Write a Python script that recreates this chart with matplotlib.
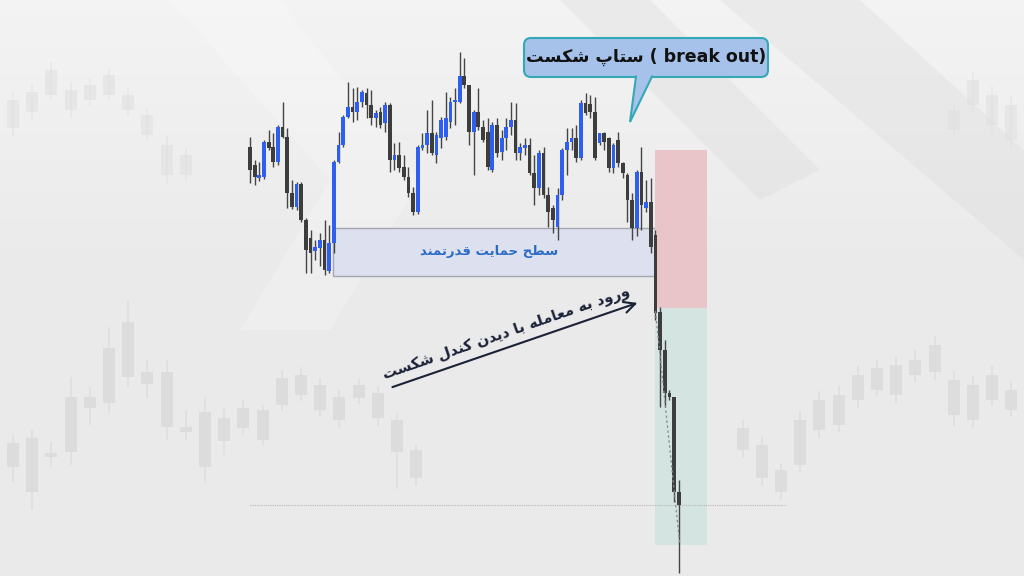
import matplotlib.pyplot as plt
import matplotlib.patches as mpatches
import numpy as np

# main chart candles (price units)
opens = [429, 411, 398, 399, 434, 429, 414, 449, 439, 383, 369, 392, 356, 338, 325, 328, 336, 305, 333, 414,
         431, 459, 469, 464, 474, 483, 471, 458, 464, 453, 471, 416, 421, 409, 399, 383, 364, 428, 431, 443,
         421, 438, 439, 454, 474, 474, 500, 491, 444, 464, 449, 444, 406, 451, 424, 438, 449, 456, 423, 428,
         431, 403, 388, 423, 381, 368, 349, 381, 426, 434, 438, 418, 473, 472, 464, 433, 443, 438, 408, 436,
         413, 401, 376, 348, 404, 368, 374, 341, 264, 226, 183, 179, 84]
highs = [439, 416, 414, 436, 446, 443, 451, 474, 448, 396, 394, 394, 358, 346, 336, 343, 356, 351, 416, 444,
         461, 494, 488, 489, 486, 488, 486, 466, 469, 474, 473, 433, 434, 421, 409, 389, 431, 443, 466, 476,
         444, 459, 484, 479, 488, 524, 518, 491, 466, 488, 456, 458, 454, 458, 446, 458, 474, 473, 433, 438,
         438, 421, 426, 429, 389, 371, 388, 428, 448, 448, 451, 476, 483, 481, 479, 443, 444, 439, 433, 444,
         414, 403, 383, 406, 429, 396, 398, 346, 269, 236, 186, 179, 96]
lows = [393, 391, 395, 397, 426, 409, 411, 438, 368, 367, 366, 354, 303, 303, 316, 310, 301, 303, 323, 413,
        429, 458, 454, 456, 469, 458, 451, 449, 448, 444, 404, 406, 404, 396, 379, 361, 362, 426, 423, 421,
        413, 428, 436, 448, 451, 473, 488, 431, 401, 446, 434, 406, 404, 419, 416, 426, 441, 416, 416, 421,
        401, 371, 381, 378, 349, 343, 336, 376, 401, 426, 414, 416, 461, 458, 416, 431, 426, 404, 403, 409,
        398, 354, 336, 340, 346, 364, 323, 256, 169, 169, 176, 74, 3]
closes = [406, 399, 401, 434, 428, 414, 449, 439, 383, 369, 392, 356, 326, 323, 329, 336, 306, 333, 414, 431,
          459, 469, 464, 474, 484, 471, 458, 463, 451, 471, 416, 421, 408, 399, 383, 364, 429, 431, 443, 423,
          441, 456, 458, 474, 476, 500, 491, 444, 464, 449, 436, 409, 451, 423, 438, 449, 456, 423, 429, 431,
          403, 388, 423, 381, 364, 356, 381, 426, 434, 438, 418, 473, 463, 464, 418, 443, 434, 408, 431, 413,
          403, 376, 348, 404, 371, 374, 329, 263, 226, 183, 179, 84, 71]

# levels of the setup
support_top, support_bottom = 348, 300
support_start, break_index = 18, 87
stop_price, entry_price, target_price = 426, 268, 31

# faded background candles: index, open, high, low, close
bg_low_idx = list(range(22))
bg_low_open = [133, 138, 123, 179, 179, 228, 254, 204, 204, 149, 164, 158, 168, 166, 198, 201, 191, 179, 191, 183, 156, 126]
bg_low_close = [109, 84, 119, 124, 168, 173, 199, 192, 149, 144, 109, 135, 148, 136, 171, 181, 166, 156, 178, 158, 124, 98]
bg_low_high = [141, 146, 134, 199, 189, 249, 276, 216, 216, 166, 179, 168, 176, 171, 206, 209, 198, 186, 197, 190, 163, 131]
bg_low_low = [94, 66, 109, 111, 151, 163, 189, 178, 136, 136, 93, 121, 141, 131, 165, 175, 160, 148, 172, 150, 87, 90]

bg_top_idx = list(range(10))
bg_top_open = [476, 484, 506, 486, 491, 501, 481, 461, 431, 421]
bg_top_close = [448, 464, 481, 466, 476, 481, 466, 441, 401, 401]
bg_top_high = [486, 492, 514, 494, 498, 508, 488, 468, 440, 428]
bg_top_low = [440, 456, 476, 458, 470, 474, 460, 434, 392, 394]

bg_right_idx = list(range(38, 53))
bg_right_open = [148, 131, 106, 156, 176, 181, 201, 208, 211, 216, 231, 196, 191, 201, 186]
bg_right_close = [126, 98, 84, 111, 146, 151, 176, 186, 181, 201, 204, 161, 156, 176, 166]
bg_right_high = [156, 140, 112, 165, 185, 190, 210, 216, 220, 226, 240, 205, 200, 210, 195]
bg_right_low = [118, 90, 76, 104, 138, 144, 168, 180, 172, 194, 196, 150, 148, 170, 160]

bg_tr_idx = [49, 50, 51, 52]
bg_tr_open = [466, 496, 481, 471]
bg_tr_close = [446, 471, 451, 436]
bg_tr_high = [474, 504, 490, 480]
bg_tr_low = [440, 464, 444, 428]

# simple Persian shaping (matplotlib has no bidi / joining support)
FORMS = {
    'ا': ('\uFE8D', '\uFE8E', None, None),
    'ب': ('\uFE8F', '\uFE90', '\uFE91', '\uFE92'),
    'ت': ('\uFE95', '\uFE96', '\uFE97', '\uFE98'),
    'ح': ('\uFEA1', '\uFEA2', '\uFEA3', '\uFEA4'),
    'د': ('\uFEA9', '\uFEAA', None, None),
    'ر': ('\uFEAD', '\uFEAE', None, None),
    'س': ('\uFEB1', '\uFEB2', '\uFEB3', '\uFEB4'),
    'ش': ('\uFEB5', '\uFEB6', '\uFEB7', '\uFEB8'),
    'ط': ('\uFEC1', '\uFEC2', '\uFEC3', '\uFEC4'),
    'ع': ('\uFEC9', '\uFECA', '\uFECB', '\uFECC'),
    'ق': ('\uFED5', '\uFED6', '\uFED7', '\uFED8'),
    'ل': ('\uFEDD', '\uFEDE', '\uFEDF', '\uFEE0'),
    'م': ('\uFEE1', '\uFEE2', '\uFEE3', '\uFEE4'),
    'ن': ('\uFEE5', '\uFEE6', '\uFEE7', '\uFEE8'),
    'ه': ('\uFEE9', '\uFEEA', '\uFEEB', '\uFEEC'),
    'و': ('\uFEED', '\uFEEE', None, None),
    'پ': ('\uFB56', '\uFB57', '\uFB58', '\uFB59'),
    'ک': ('\uFB8E', '\uFB8F', '\uFB90', '\uFB91'),
    'ی': ('\uFBFC', '\uFBFD', '\uFBFE', '\uFBFF'),
}


def fa(text):
    out = []
    for i, ch in enumerate(text):
        if ch not in FORMS:
            out.append(ch)
            continue
        prev = text[i - 1] if i > 0 else None
        nxt = text[i + 1] if i + 1 < len(text) else None
        join_prev = prev in FORMS and FORMS[prev][2] is not None
        join_next = FORMS[ch][2] is not None and nxt in FORMS
        iso, fin, ini, med = FORMS[ch]
        if join_prev and join_next:
            out.append(med)
        elif join_prev:
            out.append(fin)
        elif join_next:
            out.append(ini)
        else:
            out.append(iso)
    return ''.join(out)[::-1]


def draw_candles(ax, x, o, h, l, c, up_col, down_col, wick_col, width, wick_lw, min_h, zorder=2, alpha=1.0):
    o, h, l, c = map(np.asarray, (o, h, l, c))
    up = c >= o
    ax.vlines(x, l, h, color=wick_col, lw=wick_lw, zorder=zorder, alpha=alpha)
    ax.bar(x, np.maximum(np.abs(c - o), min_h), bottom=np.minimum(o, c), width=width,
           color=np.where(up, up_col, down_col), zorder=zorder + 0.1, alpha=alpha)


fig = plt.figure(figsize=(10.24, 5.76), dpi=100)

# backdrop: soft vertical gradient plus faded watermark bands
back = fig.add_axes([0, 0, 1, 1])
back.set_xlim(0, 1024)
back.set_ylim(576, 0)
back.axis('off')
grad = np.linspace(0, 1, 200).reshape(-1, 1)
shade = np.clip(grad / 0.45, 0, 1)
rgb = (0.955 - 0.035 * shade)[..., None] * np.ones(3)
back.imshow(rgb, extent=[0, 1024, 576, 0], aspect='auto', zorder=0)
back.add_patch(mpatches.Polygon([(170, 0), (280, 0), (420, 180), (330, 330), (240, 330), (330, 180)],
                                color='white', alpha=0.22, lw=0))
back.add_patch(mpatches.Polygon([(560, 0), (650, 0), (820, 170), (760, 200)], color='#d8d8d8', alpha=0.3, lw=0))
back.add_patch(mpatches.Polygon([(720, 0), (860, 0), (1024, 150), (1024, 260)], color='#d8d8d8', alpha=0.3, lw=0))

# faded candles behind the main chart
bg = fig.add_axes([0, 0, 1, 1])
bg.set_xlim(-13 / 19.2, (1024 - 13) / 19.2)
bg.set_ylim(0, 576)
bg.axis('off')
for x, o, h, l, c, a in [(bg_low_idx, bg_low_open, bg_low_high, bg_low_low, bg_low_close, 1.0),
                         (bg_top_idx, bg_top_open, bg_top_high, bg_top_low, bg_top_close, 0.45),
                         (bg_right_idx, bg_right_open, bg_right_high, bg_right_low, bg_right_close, 0.9),
                         (bg_tr_idx, bg_tr_open, bg_tr_high, bg_tr_low, bg_tr_close, 0.45)]:
    draw_candles(bg, x, o, h, l, c, '#dcdcdc', '#dcdcdc', '#dedede', 0.62, 1.2, 2, zorder=1, alpha=a)

# main chart
ax = fig.add_axes([0, 0, 1, 1])
ax.set_xlim(-250 / 4.66, 774 / 4.66)
ax.set_ylim(0, 576)
ax.axis('off')

# support zone
ax.add_patch(mpatches.Rectangle((support_start - 0.2, support_bottom), break_index - support_start + 0.8,
                                support_top - support_bottom, facecolor='#dde1ef', edgecolor='#a4a6b0',
                                lw=1, zorder=1))
ax.text(51.3, (support_top + support_bottom) / 2, fa('سطح حمایت قدرتمند'),
        color='#2b6cc4', fontsize=9.5, fontweight='bold', ha='center', va='center', zorder=5)

# risk / reward boxes
ax.add_patch(mpatches.Rectangle((break_index - 0.1, entry_price), 11.2, stop_price - entry_price,
                                facecolor='#e9c5c9', edgecolor='none', zorder=1))
ax.add_patch(mpatches.Rectangle((break_index - 0.1, target_price), 11.2, entry_price - target_price,
                                facecolor='#d3e4e1', edgecolor='none', zorder=1))

# dotted level of last close
ax.hlines(closes[-1], 0, 115, colors='#b8b8b8', linestyles=(0, (1, 1)), lw=0.8, zorder=1)

draw_candles(ax, np.arange(len(opens)), opens, highs, lows, closes,
             '#2f5ff0', '#3d3d3d', '#454545', 0.8, 1.0, 2, zorder=2)

# dashed path of the drop
ax.plot([break_index, break_index + 5.2], [entry_price - 3, target_price + 2], color='#8a8a8a',
        ls=(0, (2, 2)), lw=0.9, zorder=3)

# entry arrow with label
ax.annotate('', xy=(83.7, 274), xytext=(30.0, 188),
            arrowprops=dict(arrowstyle='->,head_length=0.8,head_width=0.4', color='#1b2238', lw=1.5),
            zorder=5)
ax.text(55.0, 243, fa('ورود به معامله با دیدن کندل شکست'), color='#1b2238', fontsize=10.5,
        fontweight='bold', rotation=19, rotation_mode='anchor', ha='center', va='center', zorder=5)

# callout
ov = fig.add_axes([0, 0, 1, 1])
ov.set_xlim(0, 1024)
ov.set_ylim(576, 0)
ov.axis('off')
ov.add_patch(mpatches.FancyBboxPatch((524, 38), 244, 39, boxstyle='round,pad=0,rounding_size=7',
                                     facecolor='#a6c2ea', edgecolor='#35a8b8', lw=1.5, zorder=4))
ov.add_patch(mpatches.Polygon([(636, 75), (652, 75), (630, 122)], closed=True, facecolor='#a6c2ea',
                              edgecolor='none', zorder=5))
ov.plot([636, 630, 652], [76.5, 122, 76.5], color='#35a8b8', lw=1.5, zorder=6, solid_joinstyle='miter')
ov.text(646, 57, fa('ستاپ شکست') + ' ( break out)', color='#111111', fontsize=12.5, fontweight='bold',
        ha='center', va='center', zorder=7)

fig.savefig('out.png', dpi=100)
